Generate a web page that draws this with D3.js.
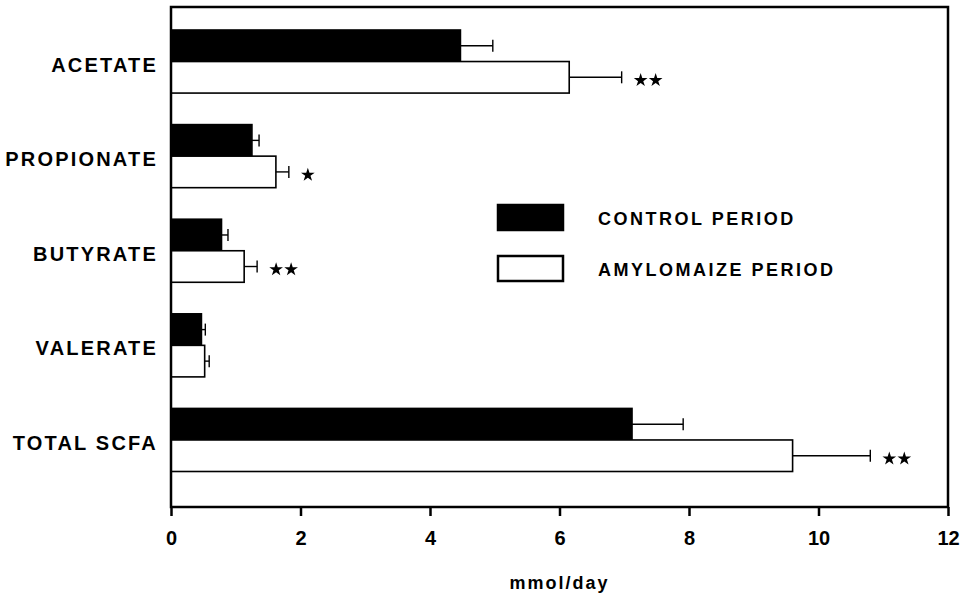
<!DOCTYPE html>
<html>
<head>
<meta charset="utf-8">
<script src="https://cdn.jsdelivr.net/npm/d3@7"></script>
<style>
  body { margin: 0; background: #fff; }
  svg text { font-family: "Liberation Sans", Arial, Helvetica, sans-serif; font-weight: bold; fill: #000; }
</style>
</head>
<body>
<div id="container"></div>
<script>
// values (mmol/day)
const categories = ["ACETATE", "PROPIONATE", "BUTYRATE", "VALERATE", "TOTAL SCFA"];
const controlMean = [4.47, 1.25, 0.78, 0.47, 7.12];
const controlSE = [0.50, 0.11, 0.10, 0.06, 0.79];
const amyloMean = [6.15, 1.62, 1.13, 0.52, 9.60];
const amyloSE = [0.81, 0.20, 0.20, 0.07, 1.20];
const amyloStars = [2, 1, 2, 0, 2];
const xTicks = [0, 2, 4, 6, 8, 10, 12];
const seriesNames = ["CONTROL PERIOD", "AMYLOMAIZE PERIOD"];

const W = 972, H = 595;
const plotLeft = 171, plotRight = 948, plotTop = 7, plotBottom = 507;

const svg = d3.select("#container").append("svg")
    .attr("width", W)
    .attr("height", H);

const x = d3.scaleLinear().domain([0, 12]).range([plotLeft, plotRight]);
const y = d3.scaleBand().domain(categories).range([30, 471.5]).paddingInner(1 / 3);
const half = y.bandwidth() / 2;

// build rows: one per category & period
const rows = [];
categories.forEach((c, i) => {
    rows.push({ cat: c, k: 0, mean: controlMean[i], se: controlSE[i], stars: 0 });
    rows.push({ cat: c, k: 1, mean: amyloMean[i], se: amyloSE[i], stars: amyloStars[i] });
});
const rowY = (d) => y(d.cat) + d.k * half;

// bars
svg.append("g").selectAll("rect")
    .data(rows)
    .enter()
    .append("rect")
    .attr("x", x(0))
    .attr("y", rowY)
    .attr("width", (d) => x(d.mean) - x(0))
    .attr("height", half)
    .attr("fill", (d) => (d.k === 0 ? "#000" : "#fff"))
    .attr("stroke", "#000")
    .attr("stroke-width", 1.6);

// error bars
const err = svg.append("g").attr("stroke", "#000").attr("stroke-width", 1.4);
err.selectAll("line.h")
    .data(rows)
    .enter()
    .append("line")
    .attr("class", "h")
    .attr("x1", (d) => x(d.mean))
    .attr("x2", (d) => x(d.mean + d.se))
    .attr("y1", (d) => rowY(d) + half / 2)
    .attr("y2", (d) => rowY(d) + half / 2);
err.selectAll("line.c")
    .data(rows)
    .enter()
    .append("line")
    .attr("class", "c")
    .attr("x1", (d) => x(d.mean + d.se))
    .attr("x2", (d) => x(d.mean + d.se))
    .attr("y1", (d) => rowY(d) + half / 2 - 6)
    .attr("y2", (d) => rowY(d) + half / 2 + 6);

// significance stars
const star = d3.symbol().type(d3.symbolStar).size(58);
const starData = [];
rows.forEach((d) => {
    for (let s = 0; s < d.stars; ++s) starData.push({ row: d, s: s });
});
svg.append("g").selectAll("path")
    .data(starData)
    .enter()
    .append("path")
    .attr("d", star)
    .attr("fill", "#000")
    .attr("transform", (d) =>
        `translate(${x(d.row.mean + d.row.se) + 19 + d.s * 15},${rowY(d.row) + half / 2 + 3})`);

// frame
svg.append("rect")
    .attr("x", plotLeft)
    .attr("y", plotTop)
    .attr("width", plotRight - plotLeft)
    .attr("height", plotBottom - plotTop)
    .attr("fill", "none")
    .attr("stroke", "#000")
    .attr("stroke-width", 2.5);

// x axis
const xAxis = svg.append("g")
    .attr("transform", `translate(0,${plotBottom})`)
    .call(d3.axisBottom(x).tickValues(xTicks).tickSize(9).tickPadding(20).tickFormat(d3.format("d")));
xAxis.select(".domain").remove();
xAxis.selectAll("line").attr("stroke-width", 2.5);
xAxis.selectAll("text")
    .attr("dy", null)
    .attr("y", 38)
    .style("font-size", "20px");
xAxis.attr("font-family", null).attr("font-size", null);

svg.append("text")
    .attr("x", x(6))
    .attr("y", 589)
    .attr("text-anchor", "middle")
    .style("font-size", "18px")
    .style("letter-spacing", "2px")
    .text("mmol/day");

// category labels
svg.append("g").selectAll("text")
    .data(categories)
    .enter()
    .append("text")
    .attr("x", 158)
    .attr("y", (d) => y(d) + half + 10)
    .attr("text-anchor", "end")
    .style("font-size", "20px")
    .style("letter-spacing", "2.2px")
    .text((d) => d);

// legend
const legend = svg.append("g");
seriesNames.forEach((name, i) => {
    const ly = 205 + i * 51;
    legend.append("rect")
        .attr("x", 498)
        .attr("y", ly)
        .attr("width", 65)
        .attr("height", 25)
        .attr("fill", i === 0 ? "#000" : "#fff")
        .attr("stroke", "#000")
        .attr("stroke-width", 2.5);
    legend.append("text")
        .attr("x", 598)
        .attr("y", ly + 20)
        .style("font-size", "18px")
        .style("letter-spacing", "2.5px")
        .text(name);
});
</script>
</body>
</html>
